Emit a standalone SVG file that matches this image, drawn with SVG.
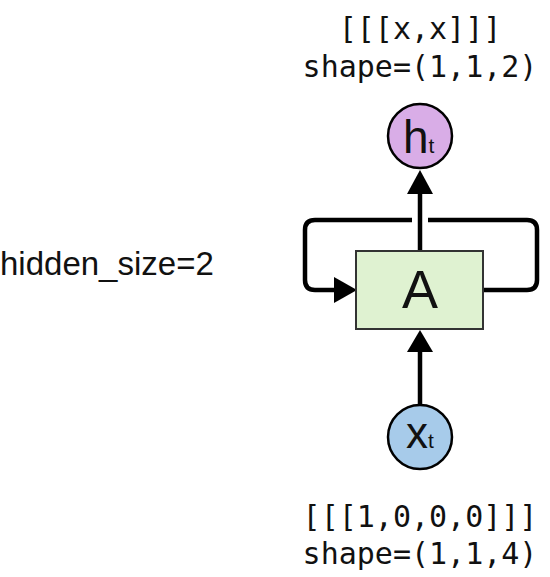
<svg xmlns="http://www.w3.org/2000/svg" width="550" height="577" viewBox="0 0 550 577">
<style>
.mono{font-family:"DejaVu Sans Mono","Liberation Mono",monospace;font-size:30px;fill:#111;text-anchor:middle}
.sans{font-family:"Liberation Sans",Arial,sans-serif;fill:#111}
.wire{fill:none;stroke:#000;stroke-width:4.5;stroke-linejoin:round}
.head{fill:#000}
</style>
<rect width="550" height="577" fill="#fff"/>
<g id="connectors">
<path class="wire" d="M412,220 H315 Q305,220 305,230 V280 Q305,290 315,290 H336"/>
<polygon class="head" points="357,290 334,277 334,303"/>
<path class="wire" d="M483,290 H527 Q537,290 537,280 V230 Q537,220 527,220 H428"/>
<path class="wire" d="M420,251 V190"/>
<polygon class="head" points="420,170 407,194 433,194"/>
<path class="wire" d="M420,405 V348"/>
<polygon class="head" points="420,330 407,352 433,352"/>
</g>
<g id="node-A">
<rect x="356" y="251" width="127" height="78" fill="#dff2d1" stroke="#333" stroke-width="2"/>
<text class="sans" x="420" y="308" font-size="54" text-anchor="middle">A</text>
</g>
<g id="node-h">
<circle cx="420" cy="136" r="32" fill="#d9ade7" stroke="#000" stroke-width="2.5"/>
<text class="sans" x="403" y="153" font-size="46">h<tspan font-size="21">t</tspan></text>
</g>
<g id="node-x">
<circle cx="420" cy="437" r="32" fill="#a7cbea" stroke="#000" stroke-width="2.5"/>
<text class="sans" x="406" y="448" font-size="44">x<tspan font-size="21">t</tspan></text>
</g>
<g id="label-output">
<text class="mono" x="420" y="39">[[[x,x]]]</text>
<text class="mono" x="420" y="77">shape=(1,1,2)</text>
</g>
<g id="label-input">
<text class="mono" x="420" y="527">[[[1,0,0,0]]]</text>
<text class="mono" x="420" y="564">shape=(1,1,4)</text>
</g>
<g id="label-hidden">
<text class="sans" x="0" y="275" font-size="33">hidden_size=2</text>
</g>
</svg>
